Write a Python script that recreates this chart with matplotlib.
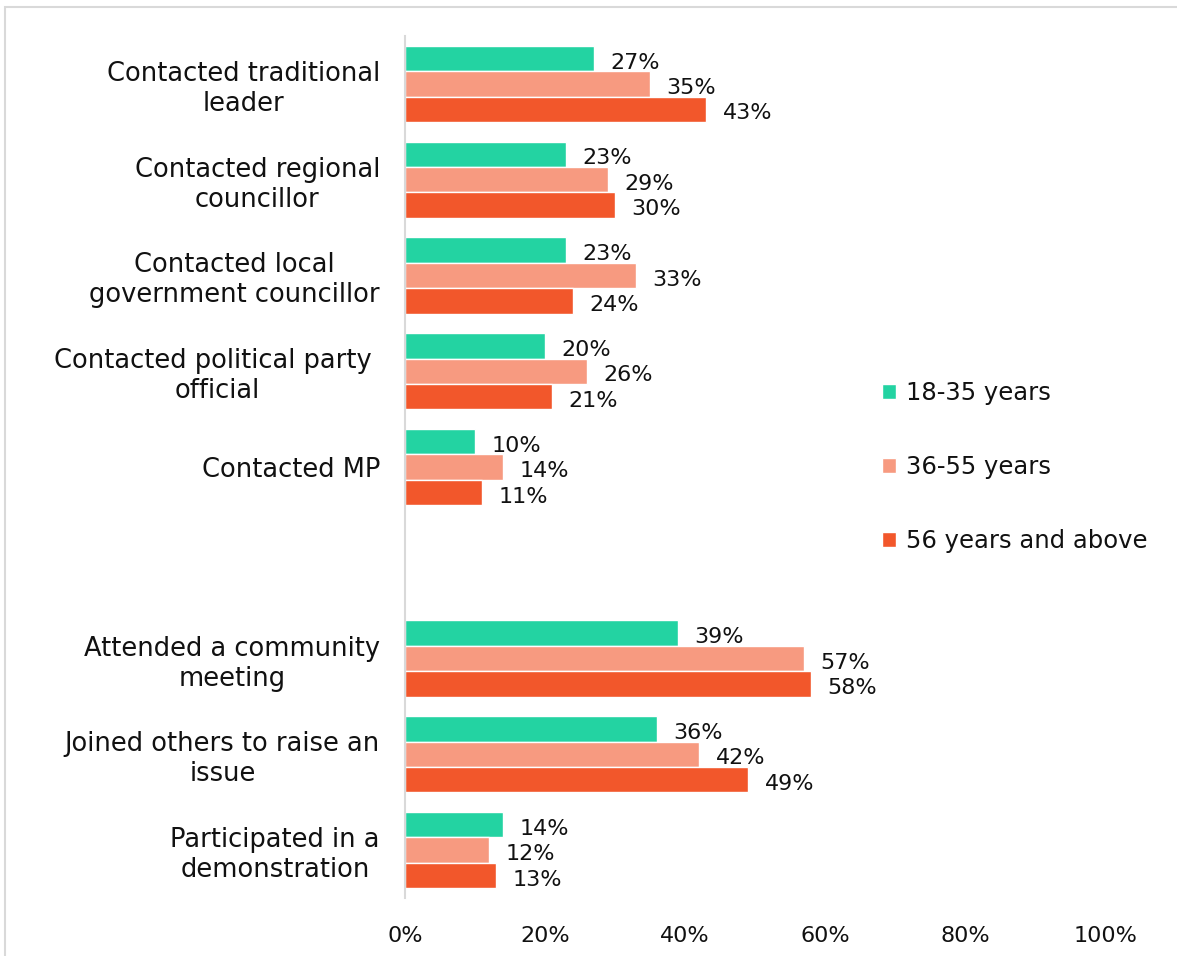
import numpy as np
import matplotlib.pyplot as plt
from matplotlib.patches import Rectangle

# data
categories = ["Contacted traditional\nleader",
              "Contacted regional\ncouncillor",
              "Contacted local\ngovernment councillor",
              "Contacted political party \nofficial",
              "Contacted MP",
              "",
              "Attended a community\nmeeting",
              "Joined others to raise an\nissue",
              "Participated in a\ndemonstration"]
young = [27, 23, 23, 20, 10, np.nan, 39, 36, 14]
middle = [35, 29, 33, 26, 14, np.nan, 57, 42, 12]
old = [43, 30, 24, 21, 11, np.nan, 58, 49, 13]
series_names = ["18-35 years", "36-55 years", "56 years and above"]
colors = ["#23D3A2", "#F79A80", "#F2572B"]

plt.rcParams['font.family'] = ['DejaVu Sans']

fig = plt.figure(figsize=(11.77, 9.56), dpi=100)
ax = fig.add_axes([405/1177, 58/956, 700/1177, 862/956])

y = np.arange(len(categories))
h = 0.265
for k, (vals, c, name) in enumerate(zip([young, middle, old], colors, series_names)):
    yy = y + (k - 1) * h
    ax.barh(yy, vals, height=h, color=c, edgecolor='white', linewidth=1, label=name)
    for yi, v in zip(yy, vals):
        if np.isnan(v):
            continue
        ax.annotate(f"{v:.0f}%", (v, yi), xytext=(12, -3), textcoords='offset points',
                    va='center', ha='left', fontsize=16, color='#111111')

ax.set_xlim(0, 100)
ax.set_ylim(len(categories) - 0.5, -0.5)
ax.set_xticks(np.arange(0, 101, 20))
ax.set_xticklabels([f"{t}%" for t in range(0, 101, 20)])
ax.set_yticks(y)
ax.set_yticklabels(categories, ha='right', multialignment='center')
ax.tick_params(axis='y', length=0, pad=18, labelsize=18.5, labelcolor='#111111')
ax.tick_params(axis='x', length=0, pad=20, labelsize=16, labelcolor='#111111')
for s in ['top', 'right', 'bottom']:
    ax.spines[s].set_visible(False)
ax.spines['left'].set_color('#D9D9D9')
ax.spines['left'].set_linewidth(1.5)

leg = fig.legend(loc='center left', bbox_to_anchor=(860/1177, 1 - 467/956), frameon=False,
                 fontsize=17.5, handlelength=0.6, handleheight=0.6, handletextpad=0.4,
                 labelspacing=2.05)
for t in leg.get_texts():
    t.set_color('#111111')

# outer border
fig.patches.append(Rectangle((5/1177, -0.01), 1.0, 1 - 7/956 + 0.01, transform=fig.transFigure,
                             fill=False, edgecolor='#D9D9D9', linewidth=1.5))

fig.savefig("out.png", dpi=100)
